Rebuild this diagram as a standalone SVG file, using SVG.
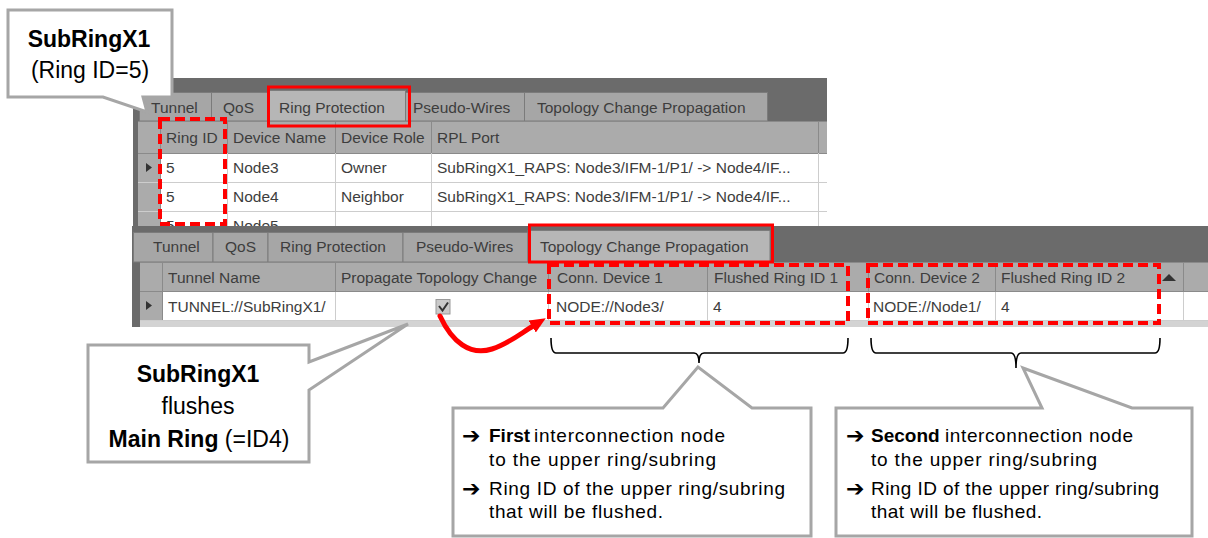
<svg xmlns="http://www.w3.org/2000/svg" width="1208" height="538" viewBox="0 0 1208 538">
<defs>
<style>
.frame{fill:#6b6b6b}
.tab{fill:#a6a6a6;stroke:#7b7b7b;stroke-width:1}
.tabsel{fill:#b6b6b6;stroke:#7b7b7b;stroke-width:1}
.hdrbg{fill:#ababab}
.hline{stroke:#8a8a8a;stroke-width:1}
.cline{stroke:#cdcdcd;stroke-width:1}
.ui{font-family:"Liberation Sans",Arial,sans-serif;font-size:15.5px;fill:#3d3d3d}
.redbox{fill:none;stroke:#f00;stroke-width:3}
.dash{fill:none;stroke:#f00;stroke-width:4;stroke-dasharray:10 5}
.callout{fill:#fff;stroke:#a6a6a6;stroke-width:3;stroke-linejoin:miter}
.ct{font-family:"Liberation Sans",Arial,sans-serif;font-size:23px;fill:#000;text-anchor:middle}
.nt{font-family:"Liberation Sans",Arial,sans-serif;font-size:19px;fill:#000}
.ar{font-family:"DejaVu Sans",sans-serif;font-size:22px;font-weight:bold;fill:#000}
.brace{fill:none;stroke:#000;stroke-width:1.6}
.b{font-weight:bold}
</style>
<clipPath id="clipUp"><rect x="133" y="78" width="694" height="149"/></clipPath>
<marker id="redhead" markerUnits="userSpaceOnUse" viewBox="0 0 16 14" refX="1" refY="7" markerWidth="16" markerHeight="14" orient="auto">
<path d="M0,0 L16,7 L0,14 Z" fill="#f00"/>
</marker>
</defs>
<rect width="1208" height="538" fill="#fff"/>

<g id="screenshot-ring-protection" clip-path="url(#clipUp)">
<rect class="frame" x="133" y="78" width="694" height="149"/>
<rect class="tab" x="139.5" y="92.5" width="72" height="28.5"/>
<rect class="tab" x="211.5" y="92.5" width="56" height="28.5"/>
<rect class="tabsel" x="267.5" y="90.5" width="138" height="30.5"/>
<rect class="tab" x="405.5" y="92.5" width="119" height="28.5"/>
<rect class="tab" x="524.5" y="92.5" width="243" height="28.5"/>
<text class="ui" x="151" y="113">Tunnel</text>
<text class="ui" x="223" y="113">QoS</text>
<text class="ui" x="279" y="113">Ring Protection</text>
<text class="ui" x="413" y="113">Pseudo-Wires</text>
<text class="ui" x="537" y="113">Topology Change Propagation</text>
<rect class="hdrbg" x="138" y="121" width="689" height="106"/>
<rect x="160" y="153" width="667" height="74" fill="#fff"/>
<line class="hline" x1="138" y1="121.5" x2="827" y2="121.5"/>
<line class="hline" x1="138" y1="153.5" x2="827" y2="153.5"/>
<line class="hline" x1="160.5" y1="121" x2="160.5" y2="227"/>
<line class="hline" x1="227.5" y1="121" x2="227.5" y2="153"/>
<line class="hline" x1="335.5" y1="121" x2="335.5" y2="153"/>
<line class="hline" x1="431.5" y1="121" x2="431.5" y2="153"/>
<line class="hline" x1="818.5" y1="121" x2="818.5" y2="153"/>
<line class="cline" x1="138" y1="182.5" x2="827" y2="182.5"/>
<line class="cline" x1="138" y1="211.5" x2="827" y2="211.5"/>
<line class="cline" x1="227.5" y1="153" x2="227.5" y2="227"/>
<line class="cline" x1="335.5" y1="153" x2="335.5" y2="227"/>
<line class="cline" x1="431.5" y1="153" x2="431.5" y2="227"/>
<line class="cline" x1="818.5" y1="153" x2="818.5" y2="227"/>
<polygon points="146,163 152,167.5 146,172" fill="#333"/>
<text class="ui" x="166" y="143">Ring ID</text>
<text class="ui" x="233" y="143">Device Name</text>
<text class="ui" x="341" y="143">Device Role</text>
<text class="ui" x="437" y="143">RPL Port</text>
<text class="ui" x="166" y="173">5</text>
<text class="ui" x="233" y="173">Node3</text>
<text class="ui" x="341" y="173">Owner</text>
<text class="ui" x="437" y="173">SubRingX1_RAPS: Node3/IFM-1/P1/ -&gt; Node4/IF...</text>
<text class="ui" x="166" y="202">5</text>
<text class="ui" x="233" y="202">Node4</text>
<text class="ui" x="341" y="202">Neighbor</text>
<text class="ui" x="437" y="202">SubRingX1_RAPS: Node3/IFM-1/P1/ -&gt; Node4/IF...</text>
<text class="ui" x="166" y="231">5</text>
<text class="ui" x="233" y="231">Node5</text>
<text class="ui" x="341" y="231">--</text>
</g>

<g id="screenshot-topology-change">
<rect class="frame" x="132" y="226" width="1076" height="101"/>
<rect class="tab" x="133.5" y="232.5" width="79.5" height="29.5"/>
<rect class="tab" x="213" y="232.5" width="55" height="29.5"/>
<rect class="tab" x="268" y="232.5" width="135" height="29.5"/>
<rect class="tab" x="403" y="232.5" width="125" height="29.5"/>
<rect class="tabsel" x="528" y="230.5" width="242" height="31.5"/>
<text class="ui" x="153" y="252">Tunnel</text>
<text class="ui" x="225" y="252">QoS</text>
<text class="ui" x="280" y="252">Ring Protection</text>
<text class="ui" x="416" y="252">Pseudo-Wires</text>
<text class="ui" x="540" y="252">Topology Change Propagation</text>
<rect class="hdrbg" x="140" y="262" width="1068" height="58"/>
<rect x="162" y="292" width="1046" height="28" fill="#fff"/>
<rect x="140" y="320" width="1068" height="7" fill="#d3d3d3"/>
<line class="hline" x1="140" y1="262.5" x2="1208" y2="262.5"/>
<line class="hline" x1="140" y1="291.5" x2="1208" y2="291.5"/>
<line class="hline" x1="162.5" y1="262" x2="162.5" y2="320"/>
<line class="hline" x1="335.5" y1="262" x2="335.5" y2="292"/>
<line class="hline" x1="548.5" y1="262" x2="548.5" y2="292"/>
<line class="hline" x1="707.5" y1="262" x2="707.5" y2="292"/>
<line class="hline" x1="868.5" y1="262" x2="868.5" y2="292"/>
<line class="hline" x1="995.5" y1="262" x2="995.5" y2="292"/>
<line class="hline" x1="1183.5" y1="262" x2="1183.5" y2="292"/>
<line class="cline" x1="335.5" y1="292" x2="335.5" y2="320"/>
<line class="cline" x1="548.5" y1="292" x2="548.5" y2="320"/>
<line class="cline" x1="707.5" y1="292" x2="707.5" y2="320"/>
<line class="cline" x1="868.5" y1="292" x2="868.5" y2="320"/>
<line class="cline" x1="995.5" y1="292" x2="995.5" y2="320"/>
<line class="cline" x1="1183.5" y1="292" x2="1183.5" y2="320"/>
<line class="cline" x1="140" y1="320.5" x2="1208" y2="320.5"/>
<text class="ui" x="168" y="283">Tunnel Name</text>
<text class="ui" x="341" y="283">Propagate Topology Change</text>
<text class="ui" x="557" y="283">Conn. Device 1</text>
<text class="ui" x="714" y="283">Flushed Ring ID 1</text>
<text class="ui" x="874" y="283">Conn. Device 2</text>
<text class="ui" x="1001" y="283">Flushed Ring ID 2</text>
<polygon points="1162,281 1169,274 1176,281" fill="#333"/>
<polygon points="146,301 152,305.5 146,310" fill="#333"/>
<text class="ui" x="168" y="312">TUNNEL://SubRingX1/</text>
<rect x="436" y="299.5" width="14" height="14.5" fill="#cacaca" stroke="#9a9a9a"/>
<path d="M439,306 L442.5,310.5 L448,302.5" fill="none" stroke="#333" stroke-width="2"/>
<text class="ui" x="556" y="312">NODE://Node3/</text>
<text class="ui" x="713" y="312">4</text>
<text class="ui" x="873" y="312">NODE://Node1/</text>
<text class="ui" x="1001" y="312">4</text>
</g>

<g id="highlights">
<rect class="redbox" x="268.5" y="87" width="141" height="39"/>
<rect class="dash" x="160" y="119" width="65" height="105"/>
<rect class="redbox" x="529.5" y="225" width="243" height="37"/>
<rect class="dash" x="549" y="265" width="299" height="58"/>
<rect class="dash" x="868" y="265" width="291" height="58"/>
</g>

<g id="braces">
<path class="brace" d="M551,338 Q551,353 556,353 L694,353 Q699,353 699,363 Q699,353 704,353 L843,353 Q848,353 848,338"/>
<path class="brace" d="M871,338 Q871,353 876,353 L1011,353 Q1016,353 1016,368 Q1016,353 1021,353 L1155,353 Q1160,353 1160,338"/>
</g>

<g id="connectors">
<path d="M440,316 C452,342 470,356 492,349 C508,344 520,334 533,326" fill="none" stroke="#f00" stroke-width="5" stroke-linecap="round" marker-end="url(#redhead)"/>
</g>

<g id="callout-subring">
<path class="callout" d="M8,10 H172 V97 H143 L147,112 L103,97 H8 Z"/>
<text class="ct b" x="89" y="47">SubRingX1</text>
<text class="ct" x="90" y="78">(Ring ID=5)</text>
</g>

<g id="callout-flush">
<path class="callout" d="M88,345 H309 V362 L408,324 L309,390 V462 H88 Z"/>
<text class="ct b" x="198" y="382">SubRingX1</text>
<text class="ct" x="198" y="414">flushes</text>
<text class="ct" x="199" y="447"><tspan class="b">Main Ring</tspan> (=ID4)</text>
</g>

<g id="callout-first">
<path class="callout" d="M453,408 H663 L698,367 L752,408 H811 V536 H453 Z"/>
<text class="ar" x="462" y="443">➔</text>
<text class="nt b" x="489" y="442">First</text>
<text class="nt" x="534" y="442" textLength="191" lengthAdjust="spacing">interconnection node</text>
<text class="nt" x="489" y="466" textLength="227" lengthAdjust="spacing">to the upper ring/subring</text>
<text class="ar" x="462" y="496">➔</text>
<text class="nt" x="489" y="495" textLength="296" lengthAdjust="spacing">Ring ID of the upper ring/subring</text>
<text class="nt" x="489" y="518" textLength="174" lengthAdjust="spacing">that will be flushed.</text>
</g>

<g id="callout-second">
<path class="callout" d="M836,408 H1042 L1023,368 L1132,408 H1192 V536 H836 Z"/>
<text class="ar" x="846" y="443">➔</text>
<text class="nt b" x="871" y="442">Second</text>
<text class="nt" x="945" y="442" textLength="188" lengthAdjust="spacing">interconnection node</text>
<text class="nt" x="871" y="466" textLength="226" lengthAdjust="spacing">to the upper ring/subring</text>
<text class="ar" x="846" y="496">➔</text>
<text class="nt" x="871" y="495" textLength="288" lengthAdjust="spacing">Ring ID of the upper ring/subring</text>
<text class="nt" x="871" y="518" textLength="171" lengthAdjust="spacing">that will be flushed.</text>
</g>
</svg>
